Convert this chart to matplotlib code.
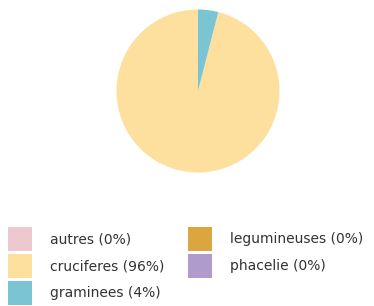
import matplotlib
matplotlib.use("Agg")
import matplotlib.pyplot as plt

labels = ["autres", "cruciferes", "graminees", "legumineuses", "phacelie"]
values = [0, 96, 4, 0, 0]
colors = ["#EDC8CE", "#FDDF9E", "#7AC4D3", "#DBA640", "#B09CCC"]

plt.rcParams['font.family'] = ['DejaVu Sans']

W, H = 374, 306
fig = plt.figure(figsize=(W / 100, H / 100), dpi=100)

cx, cy, r = 198, 91, 81.5
ax = fig.add_axes([(cx - r) / W, (H - cy - r) / H, 2 * r / W, 2 * r / H])
wedges, _ = ax.pie(values, colors=colors, startangle=90, counterclock=True,
                   wedgeprops=dict(linewidth=0))
ax.set_xlim(-1, 1)
ax.set_ylim(-1, 1)
ax.set_aspect('equal')
ax.axis('off')

total = sum(values)
leg_labels = ["%s (%d%%)" % (l, round(v * 100 / total)) for l, v in zip(labels, values)]
fig.legend(wedges, leg_labels, loc='upper left', bbox_to_anchor=(8 / W, 1 - 227 / H),
           ncol=2, frameon=False, fontsize=10, borderpad=0, borderaxespad=0,
           handlelength=1.73, handleheight=2.3, labelspacing=0.2, handletextpad=1.3,
           columnspacing=1.72, labelcolor='#333333')

fig.savefig("out.png", dpi=100)
